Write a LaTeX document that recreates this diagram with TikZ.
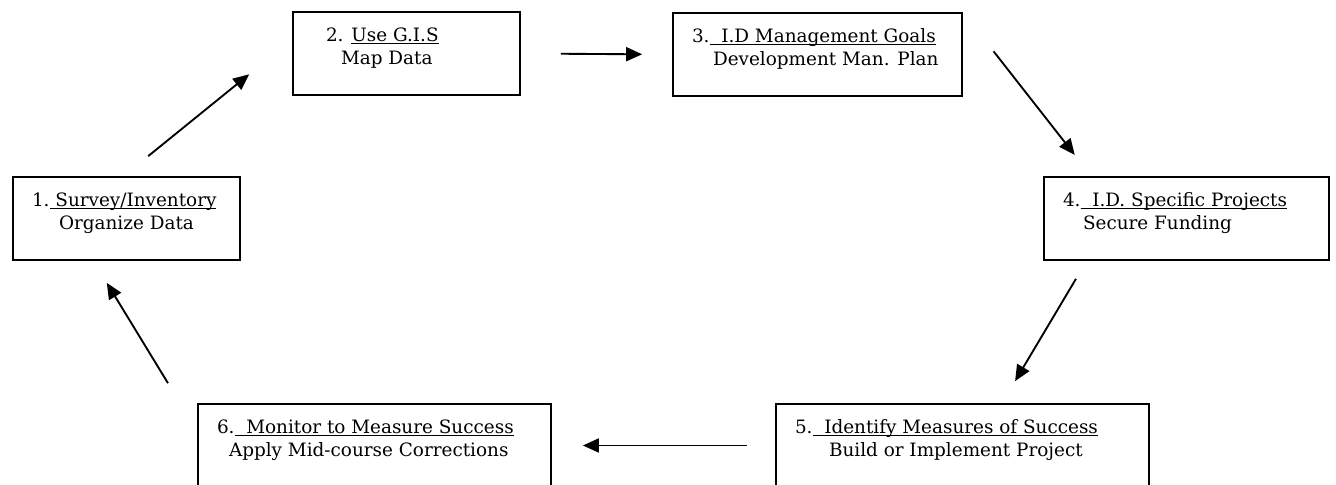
\documentclass[tikz,border=0pt]{standalone}
\usepackage{fontspec}
\setmainfont{DejaVu Serif}
\usepackage{tikz}
\usetikzlibrary{arrows.meta, positioning}

\newcommand{\stepul}[1]{\setbox0=\hbox{#1}\rlap{\rule[-1.9pt]{\wd0}{0.6pt}}\box0}
\newcommand{\steplines}[3]{\raisebox{4.2pt}[\height][\depth]{\parbox{#1}{\raggedright #2\\#3}}}

\begin{document}
\begin{tikzpicture}[x=0.75pt, y=-0.75pt,
        stepbox/.style={rectangle, draw, line width=1.3pt, inner xsep=14.25pt, minimum height=62.25pt},
        >={Triangle[length=12pt,width=10.5pt]}, line width=1.4pt]
        \tikzstyle{every node}=[font=\fontsize{13.8}{17.5}\selectfont]
            \useasboundingbox (0,0) rectangle (1336,485);
            \clip (0,0) rectangle (1336,485);

            \node[stepbox] (survey) at (126.5,218.5) {\steplines{141.75pt}{1.\stepul{\ Survey/Inventory}}{\hspace*{20.25pt}Organize Data}};
            \node[stepbox] (gis) at (406.5,53.5) {\steplines{141.75pt}{\hspace*{10.5pt}2. \stepul{Use G.I.S}}{\hspace*{21.75pt}Map Data}};
            \node[stepbox] (goals) at (817.5,54.5) {\steplines{188.25pt}{3.\stepul{\ \ I.D Management Goals}}{\hspace*{15.75pt}Development Man. Plan}};
            \node[stepbox] (projects) at (1186.5,218.5) {\steplines{185.25pt}{4.\stepul{\ \ I.D. Specific Projects}}{\hspace*{15pt}Secure Funding}};
            \node[stepbox] (measures) at (962.5,445.5) {\steplines{251.25pt}{5.\stepul{\ \ Identify Measures of Success}}{\hspace*{25.5pt}Build or Implement Project}};
            \node[stepbox] (monitor) at (374.5,445.5) {\steplines{236.25pt}{6.\stepul{\ \ Monitor to Measure Success}}{\hspace*{9pt}Apply Mid-course Corrections}};
            \coordinate (back) at ([xshift=-12.75pt]monitor.north west);

            \draw[->, shorten <=23.8pt, shorten >=41.5pt] (survey.94) -- (gis.173);
            \draw[->, shorten <=30pt, shorten >=22.5pt] (gis.east) -- (goals.west);
            \draw[->, shorten <=37.3pt, shorten >=20.2pt] (goals.north east) -- (projects.156);
            \draw[->, shorten <=15.7pt, shorten >=19.2pt] (projects.203) -- (measures.47);
            \draw[->, shorten <=21pt, shorten >=23.25pt] (measures.west) -- (monitor.east);
            \draw[->, shorten <=17.55pt, shorten >=19.3pt] (back) -- (survey.232);
        \end{tikzpicture}
\end{document}
